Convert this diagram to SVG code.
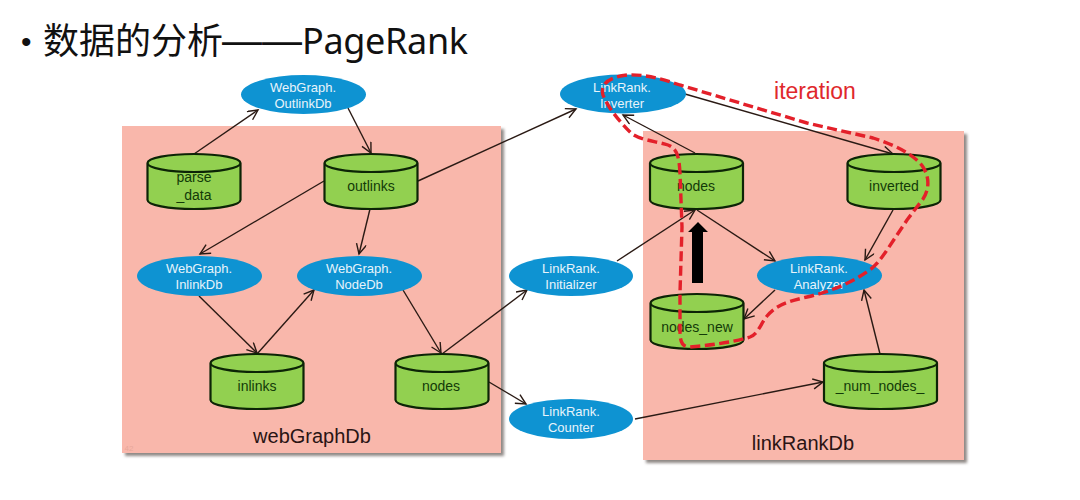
<svg xmlns="http://www.w3.org/2000/svg" width="1080" height="500" viewBox="0 0 1080 500">
<style>
text{font-family:"Liberation Sans",Arial,sans-serif;text-anchor:middle}
.panel{fill:#f9b7ab}
.shadow{fill:#8f8885;filter:url(#soft)}
.op ellipse{fill:#0e93d2}
.op text{fill:#e8f4fb;font-size:13px}
.db use{fill:#92d050;stroke:#0c2406;stroke-width:2.200}
.db text{fill:#123a08;font-size:14px}
.c line{stroke:#2a1a14;stroke-width:1.400;marker-end:url(#a);fill:none}
.big{font-size:20px;fill:#2a1414}
</style>
<defs>
<filter id="soft" x="-5%" y="-5%" width="110%" height="110%"><feGaussianBlur stdDeviation="1.500"/></filter>
<marker id="a" markerWidth="13" markerHeight="13" refX="11" refY="5.500" orient="auto" markerUnits="userSpaceOnUse"><path d="M1 .5 11 5.500 1 10.500" fill="none" stroke="#2a1a14" stroke-width="1.400"/></marker>
<path id="cyl" d="M-46.500-26V11A46.500 9 0 0 0 46.500 11V-26A46.500 9 0 0 0-46.500-26ZM-46.500-26A46.500 9 0 0 0 46.500-26"/>
<path id="cylw" d="M-56.500-26V11A56.500 9 0 0 0 56.500 11V-26A56.500 9 0 0 0-56.500-26ZM-56.500-26A56.500 9 0 0 0 56.500-26"/>
</defs>
<rect width="1080" height="500" fill="#fff"/>
<g id="title"><text x="21" y="52" style="font-size:30px;text-anchor:start;fill:#111">•</text><text x="43" y="54" style="font-size:36px;text-anchor:start;font-family:'Noto Sans','Noto Sans CJK SC',sans-serif;fill:#111">数据的分析<tspan x="222" font-size="40" style="font-family:'Liberation Sans',sans-serif">——</tspan><tspan x="302" textLength="166">PageRank</tspan></text></g>
<g id="webGraphDb"><rect class="shadow" x="125" y="129" width="379" height="327"/><rect class="panel" x="122" y="126" width="379" height="327"/><text class="big" x="312" y="443">webGraphDb</text><text x="129" y="451" style="font-size:8px;fill:#e8a79a">42</text></g>
<g id="linkRankDb"><rect class="shadow" x="646" y="134" width="321" height="329"/><rect class="panel" x="643" y="131" width="321" height="329"/><text class="big" x="803" y="450">linkRankDb</text></g>
<g id="connectors" class="c">
<line x1="194" y1="154" x2="258" y2="110"/><line x1="348" y1="108" x2="371" y2="153"/>
<line x1="418" y1="181" x2="576" y2="109"/><line x1="324" y1="181" x2="200" y2="254"/><line x1="370" y1="209" x2="359" y2="254"/>
<line x1="199" y1="296" x2="257" y2="353"/><line x1="257" y1="354" x2="314" y2="290"/>
<line x1="403" y1="290" x2="441" y2="353"/><line x1="442" y1="354" x2="527" y2="290"/><line x1="489" y1="382" x2="526" y2="404"/>
<line x1="617" y1="261" x2="695" y2="210"/><line x1="635" y1="419" x2="823" y2="382"/>
<line x1="685" y1="94" x2="893" y2="154"/><line x1="695" y1="153" x2="623" y2="115"/>
<line x1="697" y1="210" x2="775" y2="261"/><line x1="893" y1="210" x2="865" y2="260"/>
<line x1="775" y1="290" x2="744" y2="319"/><line x1="880" y1="354" x2="864" y2="290"/>
</g>
<g id="outlinkdb" class="op"><ellipse cx="303.500" cy="94.500" rx="62.500" ry="19.500"/><text x="303" y="92">WebGraph.</text><text x="303" y="108">OutlinkDb</text></g>
<g id="inlinkdb" class="op"><ellipse cx="199.500" cy="276" rx="62.500" ry="20"/><text x="199" y="273">WebGraph.</text><text x="199" y="289">InlinkDb</text></g>
<g id="nodedb" class="op"><ellipse cx="359.500" cy="276" rx="62.500" ry="20"/><text x="359" y="273">WebGraph.</text><text x="359" y="289">NodeDb</text></g>
<g id="inverter" class="op"><ellipse cx="623" cy="94" rx="63" ry="19.500"/><text x="622" y="92">LinkRank.</text><text x="622" y="108">Inverter</text></g>
<g id="initializer" class="op"><ellipse cx="571" cy="276" rx="62" ry="20"/><text x="571" y="273">LinkRank.</text><text x="571" y="289">Initializer</text></g>
<g id="counter" class="op"><ellipse cx="571" cy="419" rx="62" ry="20"/><text x="571" y="416">LinkRank.</text><text x="571" y="432">Counter</text></g>
<g id="analyzer" class="op"><ellipse cx="819.500" cy="275.500" rx="62.500" ry="19.500"/><text x="819" y="273">LinkRank.</text><text x="819" y="289">Analyzer</text></g>
<g id="parse_data" class="db"><use href="#cyl" x="194" y="189"/><text x="194" y="182">parse</text><text x="194" y="200">_data</text></g>
<g id="outlinks" class="db"><use href="#cyl" x="371" y="189"/><text x="371" y="191">outlinks</text></g>
<g id="inlinks" class="db"><use href="#cyl" x="257" y="389"/><text x="257" y="391">inlinks</text></g>
<g id="nodes1" class="db"><use href="#cyl" x="442" y="389"/><text x="441" y="391">nodes</text></g>
<g id="nodes2" class="db"><use href="#cyl" x="696.500" y="189"/><text x="696" y="191">nodes</text></g>
<g id="inverted" class="db"><use href="#cyl" x="894" y="189"/><text x="894" y="191">inverted</text></g>
<g id="nodes_new" class="db"><use href="#cyl" x="697" y="329"/><text x="697" y="332">nodes_new</text></g>
<g id="num_nodes" class="db"><use href="#cylw" x="880.500" y="389"/><text x="880" y="391">_num_nodes_</text></g>
<path id="bigArrow" d="M692 283V232H688L698 222 708 232H703V283Z" fill="#000"/>
<path id="loop" d="M680 173C679 158 678 149 668 145C655 141 640 140 631 133C620 122 608 108 603 95C600 84 609 77 627 75C645 74 662 79 680 85L740 103L807 123L873 138C895 145 915 155 923 167C930 178 929 190 923 199L907 220L887 250C880 260 876 266 868 271C850 284 828 292 807 297C790 301 777 304 767 316C760 325 758 334 750 337C735 342 712 345 690 347C681 347 680 340 680 330L680 293L682 227Z" fill="none" stroke="#e3202a" stroke-width="3.400" stroke-dasharray="10 4.500"/>
<text id="iteration" x="815" y="99" style="font-size:23px;fill:#e0282c">iteration</text>
</svg>
